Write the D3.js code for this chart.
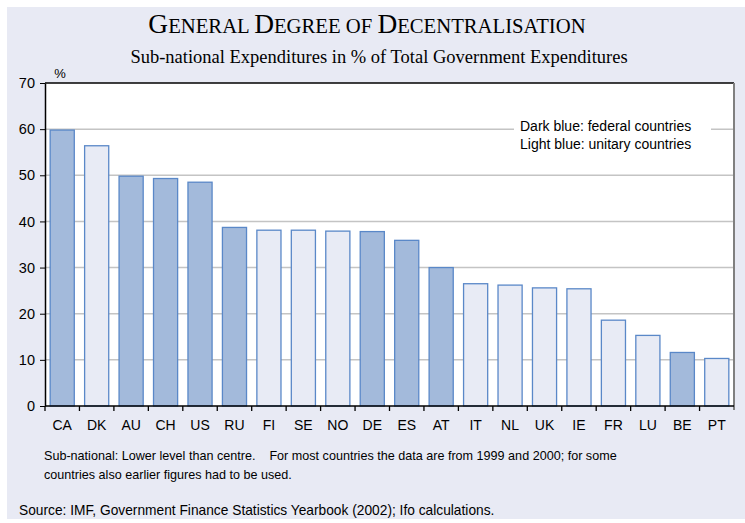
<!DOCTYPE html>
<html>
<head>
<meta charset="utf-8">
<script src="https://cdn.jsdelivr.net/npm/d3@7"></script>
<style>
  body { margin: 0; background: #fff; }
  svg { display: block; }
</style>
</head>
<body>
<div id="chart"></div>
<script>

// Data
const countries = ["CA", "DK", "AU", "CH", "US", "RU", "FI", "SE", "NO", "DE",
                   "ES", "AT", "IT", "NL", "UK", "IE", "FR", "LU", "BE", "PT"];
const shares = [59.8, 56.4, 49.8, 49.3, 48.5, 38.7, 38.1, 38.1, 37.9, 37.8,
                35.9, 30.0, 26.5, 26.2, 25.6, 25.4, 18.6, 15.3, 11.6, 10.3];
const federal = ["CA", "AU", "CH", "US", "RU", "DE", "ES", "AT", "BE"];
const yTicks = [0, 10, 20, 30, 40, 50, 60, 70];

const W = 745, H = 523;
const margin = {top: 83, right: 11, bottom: 117, left: 45};
const width = W - margin.left - margin.right,
      height = H - margin.top - margin.bottom;

const svg = d3.select("#chart")
  .append("svg")
    .attr("width", W)
    .attr("height", H);

// background panel
svg.append("rect")
  .attr("x", 7).attr("y", 7)
  .attr("width", W - 7).attr("height", 512)
  .attr("fill", "#e8eaf4");

// Title (small caps)
const title = svg.append("text")
  .attr("x", 367).attr("y", 33)
  .attr("text-anchor", "middle")
  .style("font-family", "'Liberation Serif', 'Times New Roman', serif")
  .style("fill", "#000");
[["G", "ENERAL"], ["D", "EGREE"], ["", "OF"], ["D", "ECENTRALISATION"]].forEach((w, i) => {
  if (i > 0) title.append("tspan").style("font-size", "20.7px").text(" ");
  if (w[0]) title.append("tspan").style("font-size", "27.4px").text(w[0]);
  title.append("tspan").style("font-size", "20.7px").text(w[1]);
});

svg.append("text")
  .attr("x", 379).attr("y", 63)
  .attr("text-anchor", "middle")
  .style("font-family", "'Liberation Serif', 'Times New Roman', serif")
  .style("font-size", "18.5px")
  .text("Sub-national Expenditures in % of Total Government Expenditures");

const g = svg.append("g")
  .attr("transform", `translate(${margin.left}, ${margin.top})`);

// plot area
g.append("rect")
  .attr("width", width).attr("height", height)
  .attr("fill", "#fff");

const x = d3.scaleBand()
  .domain(countries)
  .range([0, width])
  .paddingInner(0.3)
  .paddingOuter(0.15);

const y = d3.scaleLinear()
  .domain([0, 70])
  .range([height, 0]);

// gridlines
g.append("g")
  .selectAll("line")
  .data(yTicks.filter(t => t > 0 && t < 70))
  .join("line")
    .attr("x1", 0).attr("x2", width)
    .attr("y1", d => y(d)).attr("y2", d => y(d))
    .attr("stroke", "#c4c4c4")
    .attr("stroke-width", 1.5);

// legend box (white, covering the gridline)
g.append("rect")
  .attr("x", 469).attr("y", 30)
  .attr("width", 197).attr("height", 42)
  .attr("fill", "#fff");
g.append("text")
  .attr("x", 475).attr("y", 48)
  .style("font-family", "Arial, 'Liberation Sans', sans-serif")
  .style("font-size", "14px")
  .text("Dark blue: federal countries");
g.append("text")
  .attr("x", 475).attr("y", 66)
  .style("font-family", "Arial, 'Liberation Sans', sans-serif")
  .style("font-size", "14px")
  .text("Light blue: unitary countries");

// bars
const data = countries.map((c, i) => ({c: c, v: shares[i]}));
g.append("g")
  .selectAll("rect")
  .data(data)
  .join("rect")
    .attr("x", d => x(d.c))
    .attr("y", d => y(d.v))
    .attr("width", x.bandwidth())
    .attr("height", d => y(0) - y(d.v))
    .attr("fill", d => federal.includes(d.c) ? "#a3badb" : "#e8ebf5")
    .attr("stroke", "#5a88c8")
    .attr("stroke-width", 1.3);

// frame: top and right
g.append("line")
  .attr("x1", 0).attr("x2", width)
  .attr("y1", 0).attr("y2", 0)
  .attr("stroke", "#000").attr("stroke-width", 1.5);
g.append("line")
  .attr("x1", width).attr("x2", width)
  .attr("y1", 0).attr("y2", height + 4)
  .attr("stroke", "#808080").attr("stroke-width", 2);

// axes
const xAxis = g.append("g")
  .attr("transform", `translate(0, ${height})`)
  .call(d3.axisBottom(x).tickSize(0).tickPadding(14));
xAxis.select(".domain").remove();
xAxis.selectAll("text")
  .style("font-family", "Arial, 'Liberation Sans', sans-serif")
  .style("font-size", "14px")
  .attr("fill", "#000");
// tick marks between bands
const step = x.step();
g.append("g")
  .selectAll("line")
  .data(countries)
  .join("line")
    .attr("x1", (d, i) => i === 0 ? 0 : x(d) - step * 0.15)
    .attr("x2", (d, i) => i === 0 ? 0 : x(d) - step * 0.15)
    .attr("y1", height).attr("y2", height + 5)
    .attr("stroke", "#000").attr("stroke-width", 1.3);
g.append("line")
  .attr("x1", 0).attr("x2", width)
  .attr("y1", height).attr("y2", height)
  .attr("stroke", "#000").attr("stroke-width", 1.5);

const yAxis = g.append("g")
  .call(d3.axisLeft(y).tickValues(yTicks).tickSize(5).tickPadding(5).tickSizeOuter(0));
yAxis.select(".domain").attr("stroke", "#000").attr("stroke-width", 1.5);
yAxis.selectAll("text")
  .style("font-family", "Arial, 'Liberation Sans', sans-serif")
  .style("font-size", "14.5px")
  .attr("fill", "#000");

svg.append("text")
  .attr("x", 60).attr("y", 78)
  .attr("text-anchor", "middle")
  .style("font-family", "Arial, 'Liberation Sans', sans-serif")
  .style("font-size", "13px")
  .text("%");

// notes
const noteFont = "Arial, 'Liberation Sans', sans-serif";
svg.append("text")
  .attr("x", 44).attr("y", 460)
  .style("font-family", noteFont).style("font-size", "12.6px")
  .attr("xml:space", "preserve")
  .text("Sub-national: Lower level than centre.    For most countries the data are from 1999 and 2000; for some");
svg.append("text")
  .attr("x", 44).attr("y", 479)
  .style("font-family", noteFont).style("font-size", "12.6px")
  .text("countries also earlier figures had to be used.");
svg.append("text")
  .attr("x", 19).attr("y", 515)
  .style("font-family", noteFont).style("font-size", "13.75px")
  .text("Source: IMF, Government Finance Statistics Yearbook (2002); Ifo calculations.");

</script>
</body>
</html>
